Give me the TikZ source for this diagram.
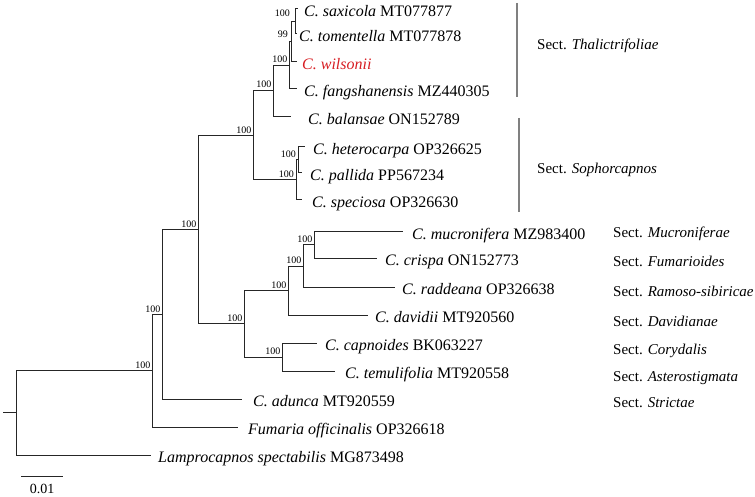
\documentclass[tikz,border=0pt]{standalone}
\usepackage{fontspec}
\setmainfont{Liberation Serif}
\usepackage{xcolor}
\usetikzlibrary{positioning}
\definecolor{wilred}{RGB}{215,30,35}
\tikzset{branch/.style={draw=black!85,line width=1pt},
  taxon/.style={anchor=west,inner sep=0pt,font=\fontsize{16}{19}\selectfont,text height=11pt,text depth=3pt,yshift=-3.5pt},
  boot/.style={inner sep=0pt,font=\fontsize{10}{12}\selectfont},
  sect/.style={anchor=west,inner sep=0pt,font=\fontsize{15}{18}\selectfont,text height=10.5pt,text depth=3pt},
  sectbar/.style={draw=black!50,line width=2.2pt}}

\begin{document}
\begin{tikzpicture}[x=1pt,y=-1pt]
    \useasboundingbox (0,0) rectangle (755,497);

    % internal nodes
    \coordinate (rootbase) at (3,412.8);
    \coordinate (root) at (16,412.8);
    \coordinate (nA) at (152,370.7);
    \coordinate (nB) at (162,314.3);
    \coordinate (nC) at (198,229.6);
    \coordinate (nE) at (253,135.5);
    \coordinate (nF) at (273,91);
    \coordinate (nH) at (289,65.5);
    \coordinate (n2) at (291,42);
    \coordinate (n1) at (295,21.5);
    \coordinate (nG) at (296,180);
    \coordinate (nP) at (298,160);
    \coordinate (nD) at (244,323.75);
    \coordinate (nJ) at (288,290.5);
    \coordinate (nL) at (303,266);
    \coordinate (nM) at (314,245);
    \coordinate (nK) at (282,357);

    % tips
    \coordinate (tsax) at (298,9);
    \coordinate (ttom) at (297,34);
    \coordinate (twil) at (297,62);
    \coordinate (tfan) at (297,89);
    \coordinate (tbal) at (291,117);
    \coordinate (thet) at (305,147);
    \coordinate (tpal) at (302,173);
    \coordinate (tspe) at (302,200);
    \coordinate (tmuc) at (403,232);
    \coordinate (tcri) at (377,258);
    \coordinate (trad) at (395,287);
    \coordinate (tdav) at (368,315);
    \coordinate (tcap) at (317,343);
    \coordinate (ttem) at (335,371);
    \coordinate (tadu) at (242,399);
    \coordinate (tfum) at (238,427);
    \coordinate (tlam) at (151,455);

    % branches
    \draw[branch] (rootbase) -- (root);
    \draw[branch] (root) |- (nA);
    \draw[branch] (root) |- (tlam);
    \draw[branch] (nA) |- (nB);
    \draw[branch] (nA) |- (tfum);
    \draw[branch] (nB) |- (nC);
    \draw[branch] (nB) |- (tadu);
    \draw[branch] (nC) |- (nE);
    \draw[branch] (nC) |- (nD);
    \draw[branch] (nE) |- (nF);
    \draw[branch] (nE) |- (nG);
    \draw[branch] (nF) |- (nH);
    \draw[branch] (nF) |- (tbal);
    \draw[branch] (nH) |- (n2);
    \draw[branch] (nH) |- (tfan);
    \draw[branch] (n2) |- (n1);
    \draw[branch] (n2) |- (twil);
    \draw[branch] (n1) |- (tsax);
    \draw[branch] (n1) |- (ttom);
    \draw[branch] (nG) |- (nP);
    \draw[branch] (nG) |- (tspe);
    \draw[branch] (nP) |- (thet);
    \draw[branch] (nP) |- (tpal);
    \draw[branch] (nD) |- (nJ);
    \draw[branch] (nD) |- (nK);
    \draw[branch] (nJ) |- (nL);
    \draw[branch] (nJ) |- (tdav);
    \draw[branch] (nL) |- (nM);
    \draw[branch] (nL) |- (trad);
    \draw[branch] (nM) |- (tmuc);
    \draw[branch] (nM) |- (tcri);
    \draw[branch] (nK) |- (tcap);
    \draw[branch] (nK) |- (ttem);

    % bootstrap values
    \node[boot,above left=2pt and 1.5pt of nA] (bA) {100};
    \node[boot,above left=2pt and 1.5pt of nB] (bB) {100};
    \node[boot,above left=2pt and 1.5pt of nC] (bC) {100};
    \node[boot,above left=2pt and 1.5pt of nE] (bE) {100};
    \node[boot,above left=3pt and 1.5pt of nF] (bF) {100};
    \node[boot,above left=3pt and 1.5pt of nH] (bH) {100};
    \node[boot,above left=4pt and 3pt of n2] (b2) {99};
    \node[boot,above left=5pt and 5pt of n1] (b1) {100};
    \node[boot,above left=2pt and 2pt of nG] (bG) {100};
    \node[boot,above left=2pt and 2pt of nP] (bP) {100};
    \node[boot,above left=2pt and 1.5pt of nD] (bD) {100};
    \node[boot,above left=2pt and 1.5pt of nJ] (bJ) {100};
    \node[boot,above left=2pt and 1.5pt of nL] (bL) {100};
    \node[boot,above left=2pt and 1.5pt of nM] (bM) {100};
    \node[boot,above left=2pt and 1.5pt of nK] (bK) {100};

    % taxa
    \node[taxon] (sax) at (304,9) {\textit{C. saxicola} MT077877};
    \node[taxon] (tom) at (299,34) {\textit{C. tomentella} MT077878};
    \node[taxon,text=wilred] (wil) at (302,62) {\textit{C. wilsonii}};
    \node[taxon] (fan) at (304,89) {\textit{C. fangshanensis} MZ440305};
    \node[taxon] (bal) at (308,117) {\textit{C. balansae} ON152789};
    \node[taxon] (het) at (313,147) {\textit{C. heterocarpa} OP326625};
    \node[taxon] (pal) at (310,173) {\textit{C. pallida} PP567234};
    \node[taxon] (spe) at (312,200) {\textit{C. speciosa} OP326630};
    \node[taxon] (muc) at (412,232) {\textit{C. mucronifera} MZ983400};
    \node[taxon] (cri) at (385,258) {\textit{C. crispa} ON152773};
    \node[taxon] (rad) at (402,287) {\textit{C. raddeana} OP326638};
    \node[taxon] (dav) at (375,315) {\textit{C. davidii} MT920560};
    \node[taxon] (cap) at (325,343) {\textit{C. capnoides} BK063227};
    \node[taxon] (tem) at (345,371) {\textit{C. temulifolia} MT920558};
    \node[taxon] (adu) at (253,399) {\textit{C. adunca} MT920559};
    \node[taxon] (fum) at (248,427) {\textit{Fumaria officinalis} OP326618};
    \node[taxon] (lam) at (158,455) {\textit{Lamprocapnos spectabilis} MG873498};

    % sections
    \coordinate (thaltop) at (517,3);
    \coordinate (thalbot) at (517,97);
    \coordinate (sophtop) at (519,118);
    \coordinate (sophbot) at (519,212);
    \draw[sectbar] (thaltop) -- (thalbot);
    \draw[sectbar] (sophtop) -- (sophbot);
    \node[sect] (sthal) at (537,46) {Sect. \textit{Thalictrifoliae}};
    \node[sect] (ssoph) at (537,170) {Sect. \textit{Sophorcapnos}};
    \node[sect] (smuc) at (613,234) {Sect. \textit{Mucroniferae}};
    \node[sect] (sfum) at (613,263) {Sect. \textit{Fumarioides}};
    \node[sect] (sram) at (613,293) {Sect. \textit{Ramoso-sibiricae}};
    \node[sect] (sdav) at (613,323) {Sect. \textit{Davidianae}};
    \node[sect] (scor) at (613,351) {Sect. \textit{Corydalis}};
    \node[sect] (sast) at (613,378) {Sect. \textit{Asterostigmata}};
    \node[sect] (sstr) at (613,404) {Sect. \textit{Strictae}};

    % scale bar
    \coordinate (sbleft) at (21,476);
    \coordinate (sbright) at (63,476);
    \draw[branch] (sbleft) -- (sbright);
    \node[inner sep=0pt,font=\fontsize{14}{16}\selectfont] (sblabel) at (42,489) {0.01};
\end{tikzpicture}
\end{document}
